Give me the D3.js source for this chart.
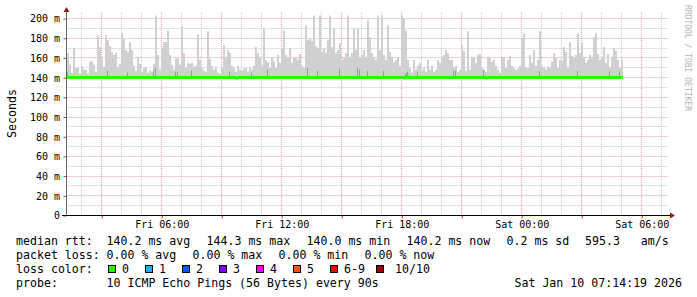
<!DOCTYPE html>
<html>
<head>
<meta charset="utf-8">
<script src="https://cdn.jsdelivr.net/npm/d3@7"></script>
<style>
html, body { margin: 0; padding: 0; background: #fff; }
svg { display: block; font-family: "DejaVu Sans Mono", monospace; }
</style>
</head>
<body>
<div id="chart"></div>
<script>
// highest ping of each 6 minute column, ms (Fri 01:15 onwards)
const smokeMax = [
	165, 153, 145, 170, 150, 150, 144, 151, 148, 148, 144, 156, 157, 153, 146, 183, 171, 160, 151, 183,
	178, 172, 166, 163, 165, 151, 154, 185, 179, 168, 166, 176, 168, 152, 147, 161, 154, 146, 150, 150,
	145, 147, 146, 154, 203, 163, 148, 170, 176, 176, 188, 163, 153, 148, 159, 160, 153, 192, 165, 150,
	155, 154, 155, 151, 152, 184, 158, 150, 147, 146, 187, 159, 152, 148, 151, 145, 144, 150, 173, 161,
	168, 165, 152, 150, 146, 152, 148, 147, 149, 150, 146, 150, 148, 152, 171, 165, 160, 152, 190, 158,
	156, 150, 160, 157, 150, 163, 155, 170, 188, 163, 160, 170, 155, 160, 160, 158, 164, 152, 150, 193,
	178, 180, 177, 203, 172, 170, 203, 166, 170, 165, 178, 203, 171, 190, 165, 168, 175, 158, 160, 165,
	203, 161, 165, 190, 168, 190, 160, 163, 168, 160, 198, 181, 165, 161, 158, 203, 168, 203, 163, 158,
	193, 166, 161, 155, 158, 160, 152, 203, 200, 188, 158, 150, 145, 158, 148, 152, 155, 147, 150, 146,
	158, 148, 152, 146, 148, 158, 155, 160, 163, 168, 165, 158, 158, 150, 152, 146, 148, 173, 167, 147,
	187, 148, 161, 161, 155, 163, 164, 150, 148, 146, 161, 160, 156, 158, 152, 148, 145, 161, 160, 150,
	158, 162, 152, 150, 148, 149, 152, 180, 185, 150, 150, 163, 155, 168, 152, 158, 187, 152, 150, 148,
	151, 150, 156, 165, 160, 150, 158, 157, 171, 166, 150, 176, 162, 160, 163, 185, 165, 175, 160, 155,
	158, 163, 161, 181, 185, 164, 158, 160, 171, 155, 164, 150, 161, 170, 167, 158, 150, 158
];

// columns where the inner pings rise too: [column, ms]
const smokeInner = [
	[0, 146], [20, 147], [30, 145], [43, 148], [44, 150], [54, 146], [55, 146], [62, 147],
	[81, 146], [92, 145], [100, 148], [120, 150], [125, 147], [136, 149], [145, 150], [146, 148],
	[150, 147], [158, 147], [170, 146], [175, 146], [193, 147], [194, 147], [208, 148], [236, 146],
	[255, 147], [271, 146], [276, 146]
];

// median rtt: [column, ms]
const medianRtt = [
	[0, 140.2], [84, 140.2], [85, 139.5], [86, 140.2], [168, 140.2], [169, 139.6], [170, 142.4],
	[171, 140.2], [209, 140.2], [210, 139.6], [211, 140.2], [278, 140.2]
];

const yTickValues = [0, 20, 40, 60, 80, 100, 120, 140, 160, 180, 200];

const lossColors = [
	["0", "#26ff00"], ["1", "#00b8ff"], ["2", "#0059ff"], ["3", "#7e00ff"],
	["4", "#ff00ff"], ["5", "#ff5500"], ["6-9", "#ff0000"], ["10/10", "#a10000"]
];

const rttStats = ["140.2 ms avg", "144.3 ms max", "140.0 ms min", "140.2 ms now", "0.2 ms sd", "595.3   am/s"];
const lossStats = ["0.00 % avg", "0.00 % max", "0.00 % min", "0.00 % now"];
const probeText = "10 ICMP Echo Pings (56 Bytes) every 90s";
const stampText = "Sat Jan 10 07:14:19 2026";

const width = 697, height = 297;
const graphStart = new Date(Date.UTC(2026, 0, 9, 1, 14, 19));
const graphEnd = new Date(Date.UTC(2026, 0, 10, 7, 14, 19));
const dataStart = Date.UTC(2026, 0, 9, 1, 15);
const step = 6 * 60 * 1000;
const at = i => new Date(dataStart + i * step);

const x = d3.scaleUtc().domain([graphStart, graphEnd]).range([66.5, 666.5]);
const y = d3.scaleLinear().domain([0, 200]).range([215.5, 18.5]);
const plotTop = 12, plotLeft = 66.5, plotBottom = 215.5, plotRight = 668;
const snap = v => Math.round(v - 0.5) + 0.5;

const svg = d3.select("#chart").append("svg")
	.attr("width", width)
	.attr("height", height)
	.attr("viewBox", `0 0 ${width} ${height}`);

svg.append("rect").attr("width", width).attr("height", height).attr("fill", "#fff");

// grid
let grid = svg.append("g").attr("class", "grid").attr("stroke-dasharray", "1,1");

grid.selectAll("line.hmin")
	.data(d3.range(10, 201, 10).filter(v => v % 20))
	.enter().append("line")
		.attr("x1", plotLeft + 1).attr("x2", plotRight)
		.attr("y1", d => snap(y(d))).attr("y2", d => snap(y(d)))
		.attr("stroke", "#c8c8c8");

grid.selectAll("line.vmin")
	.data(d3.utcHour.range(graphStart, graphEnd).filter(d => d.getUTCHours() % 3))
	.enter().append("line")
		.attr("x1", d => snap(x(d))).attr("x2", d => snap(x(d)))
		.attr("y1", plotTop).attr("y2", plotBottom)
		.attr("stroke", "#c8c8c8");

grid.selectAll("line.hmaj")
	.data(yTickValues.slice(1))
	.enter().append("line")
		.attr("x1", plotLeft + 1).attr("x2", plotRight)
		.attr("y1", d => snap(y(d))).attr("y2", d => snap(y(d)))
		.attr("stroke", "#dca0a0");

grid.selectAll("line.vmaj")
	.data(d3.utcHour.every(3).range(graphStart, graphEnd))
	.enter().append("line")
		.attr("x1", d => snap(x(d))).attr("x2", d => snap(x(d)))
		.attr("y1", plotTop).attr("y2", plotBottom)
		.attr("stroke", "#dca0a0");

// smoke
let smoke = svg.append("g").attr("class", "smoke");

smoke.selectAll("rect.outer")
	.data(smokeMax)
	.enter().append("rect")
		.attr("x", (d, i) => Math.round(x(at(i))))
		.attr("width", 2)
		.attr("y", d => y(d))
		.attr("height", d => y(139) - y(d))
		.attr("fill", "#d0d0d0");

smoke.selectAll("rect.inner")
	.data(smokeInner)
	.enter().append("rect")
		.attr("x", d => Math.round(x(at(d[0]))))
		.attr("width", 1)
		.attr("y", d => y(d[1]))
		.attr("height", d => y(139) - y(d[1]))
		.attr("fill", "#999");

// median
svg.append("path")
	.datum(medianRtt)
	.attr("fill", "none")
	.attr("stroke", lossColors[0][1])
	.attr("stroke-width", 3)
	.attr("d", d3.line().x(d => x(at(d[0]))).y(d => y(d[1])));

// axes
svg.append("g")
	.attr("transform", `translate(0, ${plotBottom})`)
	.call(d3.axisBottom(x).ticks(d3.utcHour.every(3)).tickSize(3).tickFormat(""))
	.call(g => g.select(".domain").remove())
	.call(g => g.selectAll(".tick line").attr("stroke", "#b04040"));

svg.append("g")
	.attr("transform", `translate(0, ${plotBottom})`)
	.call(d3.axisBottom(x).ticks(d3.utcHour.every(6)).tickSize(0).tickFormat(d3.utcFormat("%a %H:%M")))
	.call(g => g.select(".domain").remove())
	.call(g => g.selectAll("text")
		.attr("y", 12.5).attr("dy", null)
		.attr("fill", "#000")
		.style("font-family", "DejaVu Sans Mono")
		.style("font-size", "10px"));

svg.append("g")
	.attr("transform", `translate(${plotLeft}, 0)`)
	.call(d3.axisLeft(y).tickValues(yTickValues).tickSize(3).tickPadding(3)
		.tickFormat(d => d ? `${d} m` : "0"))
	.call(g => g.select(".domain").remove())
	.call(g => g.selectAll(".tick line").attr("stroke", "#b04040"))
	.call(g => g.selectAll("text")
		.attr("x", -6.5).attr("dy", "0.34em")
		.attr("fill", "#000")
		.style("font-family", "DejaVu Sans Mono")
		.style("font-size", "10px"));

svg.append("line")
	.attr("x1", plotLeft).attr("x2", plotLeft)
	.attr("y1", plotBottom).attr("y2", plotTop)
	.attr("stroke", "#666");

svg.append("line")
	.attr("x1", 62).attr("x2", 670)
	.attr("y1", plotBottom).attr("y2", plotBottom)
	.attr("stroke", "#000");

svg.append("path")
	.attr("d", `M${plotLeft - 3},${plotTop} L${plotLeft + 3},${plotTop} L${plotLeft},${plotTop - 5} Z`)
	.attr("fill", "#8f1f1f");

svg.append("path")
	.attr("d", `M670,${plotBottom - 3} L670,${plotBottom + 3} L675,${plotBottom} Z`)
	.attr("fill", "#8f1f1f");

// titles
svg.append("text")
	.attr("transform", "translate(15.5, 113.5) rotate(-90)")
	.attr("text-anchor", "middle")
	.style("font-size", "11.6px")
	.text("Seconds");

svg.append("text")
	.attr("transform", "translate(685, 5) rotate(90)")
	.attr("fill", "#b4b4b4")
	.style("font-size", "8px")
	.text("RRDTOOL / TOBI OETIKER");

// legend
let legend = svg.append("g").attr("class", "legend").style("font-size", "11.6px").attr("fill", "#000");
let row = [245, 259, 273, 287];

legend.append("text").attr("x", 16).attr("y", row[0]).text("median rtt:");
legend.selectAll("text.rtt")
	.data(rttStats)
	.enter().append("text")
		.attr("x", (d, i) => i < 5 ? 106.5 + i * 100 : 585)
		.attr("y", row[0])
		.style("white-space", "pre")
		.text(d => d);

legend.append("text").attr("x", 16).attr("y", row[1]).text("packet loss:");
legend.selectAll("text.loss")
	.data(lossStats)
	.enter().append("text")
		.attr("x", (d, i) => 106.5 + i * 86)
		.attr("y", row[1])
		.text(d => d);

legend.append("text").attr("x", 16).attr("y", row[2]).text("loss color:");
let boxX = [108, 145, 182, 219, 256, 293, 330, 376];
let swatch = legend.selectAll("g.swatch")
	.data(lossColors)
	.enter().append("g")
		.attr("transform", (d, i) => `translate(${boxX[i]}, 0)`);
swatch.append("rect")
	.attr("x", 0.5).attr("y", 265.5)
	.attr("width", 7).attr("height", 7)
	.attr("fill", d => d[1])
	.attr("stroke", "#000");
swatch.append("text")
	.attr("x", (d, i) => i < 7 ? 14 : 19)
	.attr("y", row[2])
	.text(d => d[0]);

legend.append("text").attr("x", 16).attr("y", row[3]).text("probe:");
legend.append("text").attr("x", 106.5).attr("y", row[3]).text(probeText);
legend.append("text").attr("x", 682).attr("y", row[3]).attr("text-anchor", "end").text(stampText);
</script>
</body>
</html>
